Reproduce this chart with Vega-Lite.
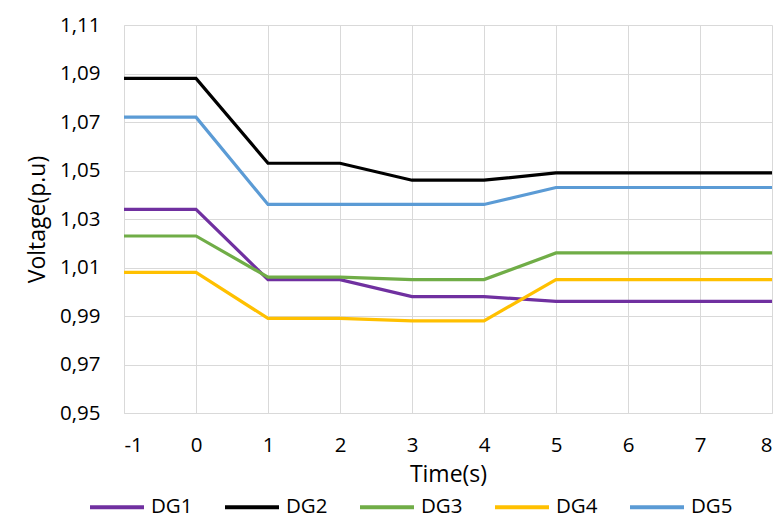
{
  "$schema": "https://vega.github.io/schema/vega-lite/v6.json",
  "width": 648,
  "height": 388,
  "autosize": "none",
  "padding": {"left": 124, "top": 25, "right": 11, "bottom": 109},
  "background": "white",
  "config": {
    "font": "Open Sans",
    "view": {"stroke": null},
    "axis": {
      "labelFont": "Open Sans", "titleFont": "Open Sans",
      "labelFontSize": 20.5, "titleFontSize": 23,
      "labelColor": "#000", "titleColor": "#000",
      "titleFontWeight": "normal",
      "gridColor": "#d9d9d9", "domainColor": "#d9d9d9", "ticks": false
    },
    "legend": {"labelFont": "Open Sans", "labelFontSize": 20.5, "labelColor": "#000"}
  },
  "data": {
    "values": [
      {"t": -1, "s": "DG1", "v": 1.034}, {"t": 0, "s": "DG1", "v": 1.034}, {"t": 1, "s": "DG1", "v": 1.005}, {"t": 2, "s": "DG1", "v": 1.005}, {"t": 3, "s": "DG1", "v": 0.998}, {"t": 4, "s": "DG1", "v": 0.998}, {"t": 5, "s": "DG1", "v": 0.996}, {"t": 6, "s": "DG1", "v": 0.996}, {"t": 7, "s": "DG1", "v": 0.996}, {"t": 8, "s": "DG1", "v": 0.996},
      {"t": -1, "s": "DG2", "v": 1.088}, {"t": 0, "s": "DG2", "v": 1.088}, {"t": 1, "s": "DG2", "v": 1.053}, {"t": 2, "s": "DG2", "v": 1.053}, {"t": 3, "s": "DG2", "v": 1.046}, {"t": 4, "s": "DG2", "v": 1.046}, {"t": 5, "s": "DG2", "v": 1.049}, {"t": 6, "s": "DG2", "v": 1.049}, {"t": 7, "s": "DG2", "v": 1.049}, {"t": 8, "s": "DG2", "v": 1.049},
      {"t": -1, "s": "DG3", "v": 1.023}, {"t": 0, "s": "DG3", "v": 1.023}, {"t": 1, "s": "DG3", "v": 1.006}, {"t": 2, "s": "DG3", "v": 1.006}, {"t": 3, "s": "DG3", "v": 1.005}, {"t": 4, "s": "DG3", "v": 1.005}, {"t": 5, "s": "DG3", "v": 1.016}, {"t": 6, "s": "DG3", "v": 1.016}, {"t": 7, "s": "DG3", "v": 1.016}, {"t": 8, "s": "DG3", "v": 1.016},
      {"t": -1, "s": "DG4", "v": 1.008}, {"t": 0, "s": "DG4", "v": 1.008}, {"t": 1, "s": "DG4", "v": 0.989}, {"t": 2, "s": "DG4", "v": 0.989}, {"t": 3, "s": "DG4", "v": 0.988}, {"t": 4, "s": "DG4", "v": 0.988}, {"t": 5, "s": "DG4", "v": 1.005}, {"t": 6, "s": "DG4", "v": 1.005}, {"t": 7, "s": "DG4", "v": 1.005}, {"t": 8, "s": "DG4", "v": 1.005},
      {"t": -1, "s": "DG5", "v": 1.072}, {"t": 0, "s": "DG5", "v": 1.072}, {"t": 1, "s": "DG5", "v": 1.036}, {"t": 2, "s": "DG5", "v": 1.036}, {"t": 3, "s": "DG5", "v": 1.036}, {"t": 4, "s": "DG5", "v": 1.036}, {"t": 5, "s": "DG5", "v": 1.043}, {"t": 6, "s": "DG5", "v": 1.043}, {"t": 7, "s": "DG5", "v": 1.043}, {"t": 8, "s": "DG5", "v": 1.043}
    ]
  },
  "mark": {"type": "line", "strokeWidth": 3.2, "strokeJoin": "miter"},
  "encoding": {
    "x": {
      "field": "t", "type": "quantitative",
      "scale": {"domain": [-1, 8], "nice": false, "zero": false},
      "axis": {"values": [-1, 0, 1, 2, 3, 4, 5, 6, 7, 8], "labelExpr": "datum.value < 0 ? '-' + (-datum.value) : '' + datum.value", "title": "Time(s)", "labelPadding": 22, "titlePadding": 8, "grid": true}
    },
    "y": {
      "field": "v", "type": "quantitative",
      "scale": {"domain": [0.95, 1.11], "nice": false, "zero": false},
      "axis": {
        "values": [0.95, 0.97, 0.99, 1.01, 1.03, 1.05, 1.07, 1.09, 1.11],
        "labelExpr": "replace(format(datum.value, '.2f'), '.', ',')",
        "title": "Voltage(p.u)", "labelPadding": 24, "titlePadding": 10, "grid": true
      }
    },
    "color": {
      "field": "s", "type": "nominal",
      "scale": {"domain": ["DG1", "DG2", "DG3", "DG4", "DG5"], "range": ["#7030A0", "#000000", "#70AD47", "#FFC000", "#5B9BD5"]},
      "legend": {
        "title": null, "orient": "none", "direction": "horizontal",
        "legendX": -36, "legendY": 453,
        "symbolType": "stroke", "symbolSize": 2916, "symbolStrokeWidth": 4,
        "labelOffset": 5, "columnPadding": 24
      }
    }
  }
}
